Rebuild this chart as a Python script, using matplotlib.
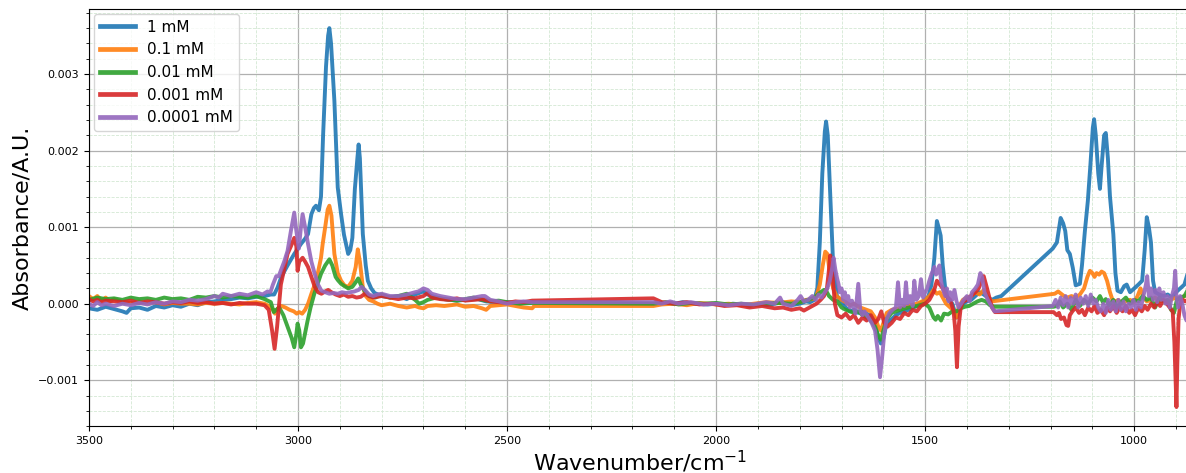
import numpy as np
import matplotlib
matplotlib.use('Agg')
import matplotlib.pyplot as plt
from matplotlib.ticker import MultipleLocator

# absorbance values below are in units of 1e-4 A.U.
SCALE = 1e-4

wn_1mM = [3500, 3480, 3460, 3440, 3420, 3410, 3400, 3380, 3360, 3340, 3320, 3300, 3280, 3260, 3240, 3220,
          3200, 3180, 3160, 3140, 3120, 3100, 3080, 3065, 3057, 3049, 3040, 3025, 3009, 2993, 2983, 2976,
          2968, 2962, 2957, 2950, 2945, 2940, 2933, 2928, 2925, 2921, 2913, 2905, 2897, 2890, 2880, 2875,
          2870, 2864, 2858, 2855, 2852, 2845, 2838, 2833, 2825, 2817, 2800, 2780, 2760, 2740, 2720, 2700,
          2690, 2670, 2650, 2620, 2600, 2570, 2550, 2520, 2500, 2470, 2440, 2150, 2120, 2100, 2080, 2050,
          2020, 2000, 1980, 1960, 1940, 1920, 1900, 1880, 1860, 1840, 1820, 1800, 1785, 1775, 1765, 1758,
          1752, 1746, 1740, 1737, 1733, 1727, 1720, 1711, 1700, 1690, 1680, 1670, 1660, 1650, 1640, 1630,
          1620, 1612, 1606, 1600, 1592, 1580, 1570, 1560, 1540, 1520, 1500, 1492, 1485, 1478, 1472, 1468,
          1463, 1458, 1452, 1445, 1435, 1425, 1420, 1410, 1400, 1390, 1380, 1370, 1360, 1350, 1340, 1330,
          1318, 1195, 1185, 1176, 1170, 1165, 1160, 1154, 1147, 1140, 1130, 1125, 1118, 1111, 1105, 1099,
          1096, 1092, 1086, 1082, 1078, 1072, 1068, 1063, 1058, 1050, 1045, 1040, 1032, 1024, 1018, 1010,
          1000, 990, 981, 975, 970, 965, 960, 955, 950, 940, 930, 920, 910, 900, 890, 880, 872, 865]
abs_1mM = [-0.6, -0.8, -0.4, -0.7, -1.0, -1.2, -0.6, -0.5, -0.8, -0.3, -0.5, -0.2, -0.4, 0.0, -0.2, 0.2,
           0.3, 0.5, 0.6, 0.8, 0.7, 0.9, 1.0, 1.2, 1.2, 2.1, 3.5, 5.0, 6.5, 7.8, 8.5, 9.1,
           11.7, 12.5, 12.8, 12.2, 14, 22, 31, 35, 36, 34, 26.5, 15.2, 11.7, 9, 6.5, 7,
           8.6, 15, 19, 20.8, 19, 9.1, 5, 3, 2, 1.4, 1.0, 0.8, 1.0, 0.6, 1.2, 1.6,
           1.2, 0.8, 0.6, 0.4, 0.5, 0.6, 0.3, 0.2, 0.2, 0.1, 0.2, 0.0, 0.1, 0.0, 0.2, 0.0,
           -0.1, 0.0, -0.2, 0.0, -0.1, -0.3, 0.0, -0.2, 0.0, 0.2, -0.2, 0.0, 0.3, 0.2, 0.5, 2,
           8, 17, 22.5, 23.8, 22, 14, 5, 1, 0.3, -0.5, -1.0, -0.8, -1.2, -1.0, -1.3, -1.6,
           -2.5, -4.5, -5.2, -4.5, -2.5, -2.0, -1.5, -1.2, -0.8, -0.3, 0.5, 1.0, 2.5, 6, 10.8, 10,
           8.9, 5, 2, 0.5, 0, -1.8, -1.0, 0.0, 0.3, 0.5, 1.0, 1.5, 1.2, 0.8, 0.5, 0.8,
           1.0, 7.2, 8.0, 11.2, 10.5, 9.5, 7, 6.5, 4.7, 2.4, 2.6, 5, 9.5, 13.4, 18, 23,
           24.1, 22, 17, 15, 18, 22, 22.3, 19, 14, 9.1, 4, 1.7, 1.5, 2.3, 2.5, 1.5,
           2.0, 2.5, 3.0, 7, 11.3, 10, 8, 3, 1.5, 1.2, 1.0, 1.2, 0.8, 1.5, 2.0, 2.5, 4.0, 3.5]

wn_01mM = [3500, 3490, 3480, 3470, 3460, 3450, 3440, 3420, 3400, 3380, 3360, 3340, 3320, 3300, 3280, 3260,
           3240, 3220, 3200, 3180, 3160, 3140, 3120, 3100, 3080, 3070, 3060, 3055, 3048, 3040, 3030, 3020,
           3010, 3003, 2997, 2990, 2983, 2976, 2968, 2960, 2953, 2945, 2941, 2935, 2929, 2925, 2920, 2913,
           2905, 2897, 2889, 2880, 2870, 2862, 2857, 2852, 2845, 2838, 2830, 2820, 2810, 2800, 2780, 2760,
           2740, 2720, 2710, 2700, 2690, 2670, 2650, 2620, 2600, 2580, 2560, 2550, 2540, 2520, 2500, 2480,
           2460, 2440, 2435, 2150, 2130, 2100, 2070, 2040, 2000, 1970, 1940, 1910, 1880, 1850, 1820, 1800,
           1785, 1770, 1760, 1752, 1745, 1739, 1734, 1728, 1720, 1712, 1700, 1690, 1680, 1670, 1660, 1650,
           1640, 1630, 1620, 1612, 1606, 1600, 1592, 1580, 1560, 1540, 1520, 1500, 1490, 1480, 1472, 1465,
           1458, 1450, 1440, 1430, 1425, 1420, 1410, 1400, 1390, 1380, 1370, 1360, 1350, 1340, 1326, 1190,
           1182, 1175, 1168, 1160, 1150, 1140, 1130, 1120, 1112, 1106, 1100, 1095, 1090, 1084, 1078, 1072,
           1065, 1058, 1052, 1045, 1038, 1030, 1020, 1010, 1000, 992, 985, 978, 970, 960, 950, 940,
           930, 920, 910, 900, 890, 880, 870]
abs_01mM = [1.0, 0.6, 1.0, 0.4, 0.8, 0.3, 0.6, 0.2, 0.1, 0.3, 0.0, 0.2, -0.1, 0.1, 0.0, 0.0,
            -0.1, 0.1, 0.0, 0.1, 0.0, -0.1, 0.1, 0.2, 0.0, -0.3, -0.8, -1.3, -0.6, -0.3, -0.5, -0.8,
            -1.0, -1.3, -1.1, -1.3, -0.8, 0.0, 1.3, 2.5, 3.9, 6, 7.8, 10, 12.3, 12.8, 11.5, 6.5,
            4.0, 3.0, 2.4, 2.2, 3, 4.8, 7.1, 5.5, 2.2, 1.0, 0.5, 0.3, 0.0, -0.2, 0.0, -0.3,
            -0.5, -0.3, -0.5, -0.6, -0.3, -0.2, -0.3, -0.1, -0.4, -0.3, -0.6, -0.8, -0.3, -0.2, -0.1, -0.3,
            -0.5, -0.6, -0.3, -0.3, -0.1, 0.0, -0.2, 0.1, -0.1, 0.0, -0.2, 0.0, 0.2, 0.1, 0.3, 0.2,
            0.5, 0.6, 1.0, 2.5, 5.0, 6.8, 6.5, 4.0, 2.0, 1.0, 0.5, 0.2, -0.2, 0.0, -0.4, -0.6,
            -0.8, -1.0, -1.8, -3.0, -3.5, -2.5, -1.2, -0.8, -0.6, -0.3, 0.0, 0.5, 1.0, 1.8, 1.3, 1.5,
            0.8, 0.0, -0.5, -1.0, -1.8, -0.5, 0.5, 0.8, 1.0, 1.5, 1.2, 1.8, 0.8, 0.3, 0.4, 1.3,
            1.6, 1.3, 1.0, 0.8, 1.0, 0.8, 1.2, 2.0, 3.5, 4.3, 4.0, 3.5, 4.0, 3.8, 4.2, 4.0,
            3.0, 1.5, 0.5, 0.3, 0.5, 0.0, 0.3, 0.5, 0.2, 1.0, 2.0, 0.8, 0.3, 0.5, 0.8, 0.3,
            0.5, 0.2, 0.6, 0.8, 0.5, 1.0, 1.2]

wn_001mM = [3500, 3480, 3460, 3440, 3420, 3400, 3380, 3360, 3340, 3320, 3300, 3280, 3260, 3240, 3220, 3200,
            3180, 3160, 3140, 3120, 3100, 3080, 3065, 3058, 3052, 3045, 3035, 3025, 3015, 3009, 3004, 3001,
            2997, 2993, 2988, 2977, 2970, 2961, 2953, 2945, 2935, 2925, 2918, 2910, 2905, 2897, 2889, 2880,
            2870, 2862, 2856, 2850, 2840, 2830, 2815, 2800, 2780, 2760, 2740, 2720, 2710, 2700, 2690, 2670,
            2650, 2620, 2600, 2580, 2560, 2540, 2520, 2500, 2470, 2440, 2150, 2120, 2090, 2060, 2030, 2000,
            1970, 1940, 1910, 1880, 1850, 1820, 1800, 1780, 1765, 1750, 1742, 1737, 1730, 1720, 1710, 1700,
            1690, 1680, 1670, 1660, 1650, 1640, 1630, 1620, 1612, 1606, 1600, 1592, 1580, 1560, 1540, 1520,
            1500, 1490, 1480, 1475, 1470, 1462, 1455, 1445, 1435, 1425, 1415, 1405, 1395, 1385, 1375, 1365,
            1355, 1345, 1335, 1330, 1193, 1185, 1178, 1170, 1160, 1150, 1140, 1130, 1120, 1110, 1100, 1090,
            1082, 1075, 1068, 1060, 1050, 1040, 1030, 1020, 1010, 1000, 990, 980, 970, 960, 950, 940,
            930, 920, 912, 905, 898, 890, 880, 870]
abs_001mM = [0.5, 0.8, 0.6, 0.7, 0.5, 0.8, 0.6, 0.7, 0.5, 0.8, 0.6, 0.7, 0.5, 0.9, 0.8, 1.0,
             0.8, 1.0, 0.9, 0.8, 1.0, 0.6, 0.2, -1.1, -0.8, -0.5, -1.5, -3.0, -4.5, -5.7, -4.0, -2.6,
             -3.5, -5.7, -5.2, -2.2, -0.5, 1.3, 2.6, 3.9, 5.0, 5.8, 5.0, 3.5, 3.1, 2.6, 2.3, 2.0,
             2.2, 2.8, 3.3, 2.5, 1.6, 1.0, 0.8, 1.2, 0.8, 1.0, 1.3, 0.5, 0.0, 0.2, 0.5, 0.8,
             0.6, 0.4, 0.6, 0.8, 0.5, 0.3, 0.4, 0.2, 0.0, 0.1, 0.0, 0.2, -0.1, 0.1, 0.0, 0.1,
             -0.1, 0.0, -0.2, 0.0, 0.1, 0.0, 0.2, 0.5, 0.8, 1.5, 1.8, 1.7, 1.0, 0.5, 0.3, -0.5,
             -0.8, -1.0, -1.2, -1.0, -1.5, -1.8, -2.2, -3.0, -4.2, -4.7, -3.5, -2.0, -1.2, -0.8, -0.5, -0.3,
             0.0, -0.5, -1.8, -2.1, -1.6, -2.2, -1.3, -1.4, -1.0, -1.0, -0.6, -0.4, -0.3, 0.0, 0.3, 0.5,
             0.3, -0.2, -0.4, -0.4, -0.4, -0.3, 0.3, -0.5, 0.0, -0.8, 0.5, -0.3, 0.5, 0.0, 0.8, 0.3,
             1.0, 0.2, 0.6, -0.2, 0.5, -0.5, 0.3, 0.8, 0.0, 0.5, 0.3, 1.0, 0.5, 0.8, -0.5, 0.8,
             0.3, 0.5, -0.8, -1.2, 0.5, 0.8, 1.0, 2.0]

wn_0001mM = [3500, 3490, 3480, 3470, 3460, 3440, 3420, 3400, 3380, 3360, 3340, 3320, 3300, 3280, 3260, 3240,
             3220, 3200, 3180, 3160, 3140, 3120, 3100, 3080, 3070, 3062, 3056, 3050, 3041, 3033, 3025, 3017,
             3009, 3004, 3001, 2997, 2989, 2983, 2976, 2968, 2960, 2952, 2944, 2935, 2928, 2920, 2910, 2900,
             2890, 2880, 2870, 2860, 2850, 2840, 2830, 2820, 2800, 2780, 2760, 2740, 2720, 2700, 2690, 2680,
             2660, 2640, 2620, 2600, 2580, 2560, 2540, 2520, 2500, 2480, 2460, 2440, 2150, 2130, 2100, 2070,
             2040, 2010, 1980, 1950, 1920, 1890, 1860, 1840, 1820, 1800, 1790, 1780, 1770, 1760, 1750, 1742,
             1735, 1730, 1727, 1722, 1716, 1710, 1700, 1690, 1680, 1670, 1660, 1650, 1640, 1630, 1620, 1612,
             1605, 1598, 1590, 1580, 1570, 1560, 1550, 1540, 1530, 1520, 1510, 1500, 1490, 1480, 1472, 1465,
             1458, 1450, 1440, 1432, 1428, 1424, 1420, 1415, 1410, 1400, 1390, 1380, 1372, 1365, 1360, 1352,
             1345, 1340, 1333, 1193, 1185, 1180, 1175, 1168, 1162, 1158, 1154, 1148, 1140, 1132, 1125, 1118,
             1110, 1102, 1095, 1088, 1080, 1072, 1065, 1058, 1050, 1042, 1035, 1028, 1020, 1012, 1005, 998,
             990, 982, 975, 968, 960, 952, 945, 938, 930, 922, 915, 908, 904, 901, 899, 897,
             894, 890, 885, 878, 870]
abs_0001mM = [0.6, 0.3, 0.5, 0.2, 0.4, 0.3, 0.2, 0.4, 0.1, 0.3, 0.2, 0.0, 0.2, 0.1, 0.3, 0.1,
              0.2, 0.0, 0.1, -0.1, 0.1, 0.0, 0.0, -0.2, -0.8, -3.5, -5.9, -3.0, 2.5, 4.5, 6.5, 7.5,
              8.6, 7.5, 4.3, 5.5, 6.0, 5.5, 4.8, 3.5, 2.2, 1.5, 1.3, 1.6, 1.8, 1.5, 1.2, 1.0,
              1.2, 0.9, 1.0, 0.8, 0.9, 1.3, 1.0, 0.8, 1.0, 0.8, 0.6, 0.8, 0.7, 1.0, 1.4, 0.8,
              0.6, 0.5, 0.7, 0.4, 0.5, 0.6, 0.3, 0.2, 0.1, 0.3, 0.2, 0.4, 0.7, 0.2, 0.0, 0.2,
              -0.1, 0.0, -0.3, -0.2, -0.5, -0.3, -0.6, -0.5, -0.8, -0.6, -0.9, -0.6, -0.3, 0.0, 0.5, 1.0,
              2.0, 4.5, 6.3, 4.0, 0.0, -1.5, -1.8, -1.3, -2.0, -1.5, -2.5, -1.8, -2.2, -1.5, -2.5, -2.0,
              -1.0, -2.5, -3.0, -2.5, -1.8, -2.0, -1.2, -1.5, -0.8, -1.0, -0.3, 0.0, 0.5, 1.5, 3.0, 2.5,
              2.0, 1.0, 0.5, -1.0, -3.5, -8.3, -3.0, -0.5, 0.2, 0.5, 1.0, 1.5, 2.0, 3.0, 3.6, 2.0,
              0.5, -0.5, -1.1, -1.1, -1.5, -1.2, -2.0, -1.8, -2.8, -2.9, -1.5, -1.0, -0.5, -1.2, -0.8, -1.5,
              -0.5, -1.0, -0.3, -1.2, -0.8, -1.5, -0.5, -1.0, -0.3, -1.2, -0.5, -1.0, -0.3, -1.2, -0.8, -1.5,
              -0.5, -1.0, -0.3, -0.8, 0.0, -0.5, 0.2, -0.3, 0.5, 0.0, -0.5, -1.0, -5.0, -10, -13.5, -8,
              -2.0, 0.0, 0.5, 0.3, 0.6]

wn_00001mM = [3500, 3490, 3480, 3470, 3460, 3440, 3420, 3400, 3380, 3360, 3340, 3320, 3300, 3280, 3260, 3240,
              3220, 3200, 3190, 3180, 3160, 3140, 3120, 3100, 3085, 3073, 3066, 3060, 3052, 3046, 3040, 3033,
              3025, 3017, 3009, 3004, 2998, 2993, 2989, 2983, 2976, 2968, 2960, 2952, 2944, 2935, 2925, 2915,
              2905, 2895, 2885, 2875, 2865, 2855, 2848, 2840, 2830, 2820, 2810, 2800, 2780, 2760, 2740, 2720,
              2712, 2700, 2690, 2680, 2660, 2640, 2620, 2600, 2580, 2560, 2553, 2540, 2520, 2500, 2480, 2460,
              2440, 2150, 2130, 2110, 2090, 2060, 2030, 2000, 1970, 1940, 1910, 1880, 1860, 1847, 1840, 1820,
              1805, 1798, 1790, 1780, 1770, 1762, 1755, 1748, 1740, 1734, 1728, 1722, 1719, 1715, 1711, 1707,
              1704, 1700, 1696, 1692, 1688, 1684, 1680, 1675, 1667, 1660, 1655, 1650, 1645, 1636, 1628, 1620,
              1614, 1608, 1603, 1598, 1592, 1585, 1578, 1570, 1565, 1560, 1555, 1550, 1546, 1542, 1536, 1530,
              1526, 1521, 1515, 1510, 1505, 1500, 1495, 1490, 1484, 1478, 1474, 1470, 1466, 1462, 1458, 1452,
              1448, 1444, 1440, 1435, 1430, 1425, 1420, 1414, 1408, 1400, 1394, 1388, 1380, 1374, 1368, 1364,
              1358, 1350, 1340, 1334, 1195, 1188, 1182, 1176, 1170, 1164, 1158, 1152, 1146, 1140, 1134, 1128,
              1122, 1116, 1110, 1104, 1098, 1092, 1086, 1080, 1074, 1068, 1062, 1056, 1050, 1044, 1038, 1032,
              1026, 1020, 1014, 1008, 1002, 996, 990, 984, 978, 972, 969, 965, 960, 955, 950, 945,
              940, 935, 930, 925, 920, 915, 910, 905, 902, 899, 895, 890, 885, 880, 875, 870]
abs_00001mM = [0.0, -0.3, 0.2, -0.2, 0.0, -0.3, 0.0, -0.2, 0.1, -0.1, 0.2, 0.0, 0.3, 0.2, 0.5, 0.4,
               0.6, 1.0, 0.8, 1.3, 1.0, 1.3, 1.1, 1.5, 1.2, 1.6, 1.5, 2.5, 3.6, 3.6, 4.5, 5.5,
               6.9, 9.5, 11.9, 9.5, 7.2, 10, 11.7, 10, 7.8, 5.5, 3.9, 2.5, 1.7, 1.5, 1.3, 1.4,
               1.3, 1.5, 1.4, 1.5, 1.6, 1.8, 2.2, 1.8, 1.2, 1.0, 1.2, 1.3, 1.0, 1.0, 1.2, 1.5,
               1.6, 2.0, 1.8, 1.3, 1.0, 0.8, 0.6, 0.6, 0.8, 1.0, 1.0, 0.5, 0.3, 0.0, 0.2, 0.3,
               0.2, 0.2, 0.0, 0.3, 0.0, 0.2, -0.1, 0.0, -0.2, 0.0, -0.1, 0.2, 0.0, 0.8, 0.0, -0.3,
               0.5, 1.0, 0.3, 0.5, 1.0, 0.5, 1.2, 0.8, 1.5, 2.0, 3.0, 4.8, 6.0, 4.5, 3.4, 2.5,
               1.5, 2.0, 0.5, 1.5, 0.0, 1.0, -0.5, 0.4, -1.3, 2.6, -1.0, -1.5, -1.0, -1.8, -2.5, -3.5,
               -6.0, -9.6, -7.0, -4.0, -2.0, -1.2, -0.8, -0.5, 2.8, -0.5, 0.5, -0.3, 2.8, 0.0, 1.0, -0.3,
               3.0, 0.5, 1.0, 3.2, 0.8, 1.5, 2.0, 3.0, 4.0, 4.8, 3.8, 4.2, 5.0, 3.0, 2.0, 1.0,
               2.0, 0.3, 1.5, 0.5, 1.8, 0.3, -0.5, 0.0, 0.5, 1.0, 0.3, 1.5, 2.0, 2.5, 4.0, 3.5,
               1.5, 0.5, -0.5, -1.0, -0.3, 0.5, -0.5, 0.8, -0.2, 1.0, -0.5, 0.8, 0.0, 1.2, -0.5, 0.8,
               0.0, 1.0, -0.3, 1.2, 0.0, 0.5, -0.5, -1.0, 0.0, -1.2, 0.5, -0.8, 0.3, -1.0, 0.5, -0.8,
               0.3, -1.0, 0.0, -0.5, 0.5, -0.8, 0.2, -0.5, 1.0, 2.5, 3.6, 1.0, 2.0, 0.5, 1.8, 0.2,
               2.0, 0.5, 1.5, 0.0, 1.0, -0.5, 1.0, 2.0, 4.3, 1.0, -0.5, 1.0, 0.0, -1.5, -2.2, -1.5]

labels = ['1 mM', '0.1 mM', '0.01 mM', '0.001 mM', '0.0001 mM']
series = [(wn_1mM, abs_1mM), (wn_01mM, abs_01mM), (wn_001mM, abs_001mM),
          (wn_0001mM, abs_0001mM), (wn_00001mM, abs_00001mM)]

fig = plt.figure(figsize=(11.86, 4.73), dpi=100)
ax = fig.add_axes([0.075, 0.099, 0.93, 0.882])

for (wn, ab), lab in zip(series, labels):
    ax.plot(wn, np.array(ab) * SCALE, lw=2.8, alpha=0.9, label=lab)

ax.set_xlim(3500, 862)
ax.set_ylim(-0.0016, 0.00385)
ax.xaxis.set_major_locator(MultipleLocator(500))
ax.xaxis.set_minor_locator(MultipleLocator(100))
ax.yaxis.set_major_locator(MultipleLocator(0.001))
ax.yaxis.set_minor_locator(MultipleLocator(0.0002))
ax.tick_params(labelsize=8)
ax.grid(which='major', color='#b0b0b0', lw=0.9)
ax.grid(which='minor', color='#d3e8d3', ls='--', lw=0.6)
ax.set_axisbelow(True)
ax.spines['right'].set_visible(False)

ax.set_xlabel('Wavenumber/cm$^{-1}$', fontsize=16, labelpad=2)
ax.set_ylabel('Absorbance/A.U.', fontsize=16, labelpad=4)

leg = ax.legend(loc='upper left', fontsize=11, handlelength=2.3, borderaxespad=0.3)
for line in leg.get_lines():
    line.set_linewidth(3.4)

fig.savefig('out.png', dpi=100)
